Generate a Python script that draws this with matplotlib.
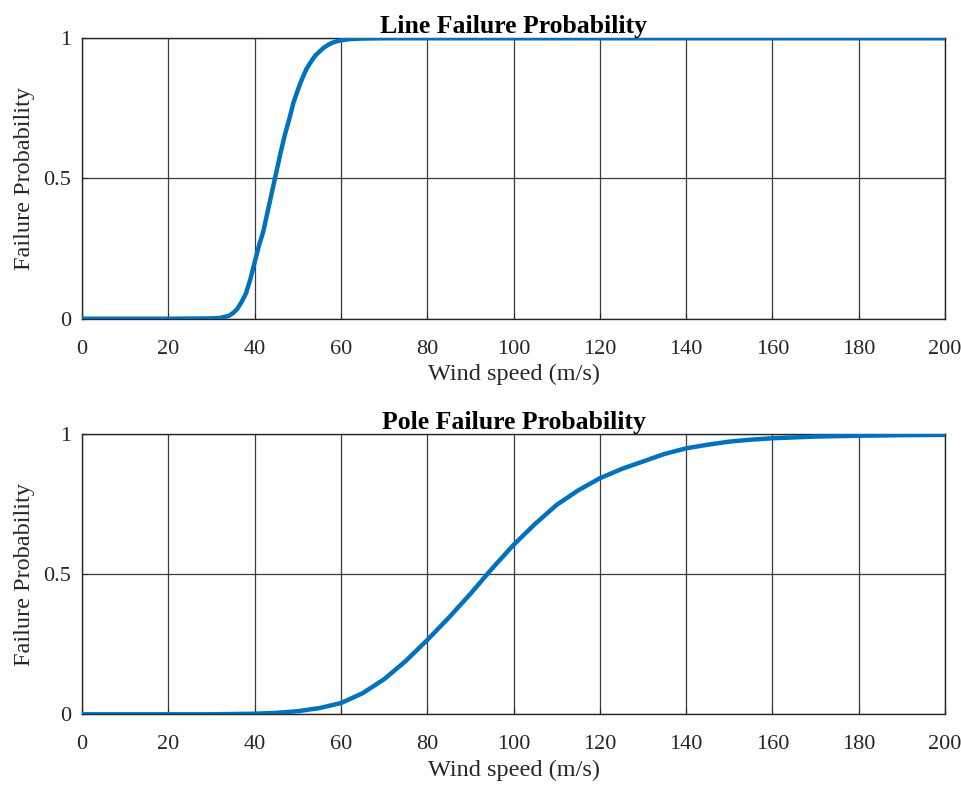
import matplotlib
matplotlib.use("Agg")
import matplotlib.pyplot as plt

# Data
line_speed = [0, 20, 30, 32, 34, 35, 36, 37, 38, 39, 40, 41, 42, 43, 44, 45, 46, 47, 48, 49,
              50, 51, 52, 53, 54, 55, 56, 57, 58, 59, 60, 62, 65, 70, 200]
line_prob = [0, 0, 0.001, 0.003, 0.01, 0.02, 0.035, 0.06, 0.09, 0.14, 0.2, 0.26, 0.31, 0.38,
             0.45, 0.52, 0.59, 0.655, 0.71, 0.77, 0.815, 0.855, 0.89, 0.915, 0.937, 0.952,
             0.966, 0.976, 0.984, 0.989, 0.993, 0.997, 0.999, 1.0, 1.0]

pole_speed = [0, 30, 40, 45, 50, 55, 60, 65, 70, 75, 80, 85, 90, 95, 100, 105, 110, 115, 120,
              125, 130, 135, 140, 145, 150, 155, 160, 170, 180, 190, 200]
pole_prob = [0, 0, 0.002, 0.005, 0.011, 0.022, 0.04, 0.075, 0.125, 0.19, 0.265, 0.345, 0.43,
             0.52, 0.605, 0.68, 0.748, 0.8, 0.843, 0.876, 0.903, 0.93, 0.95, 0.963, 0.974,
             0.981, 0.986, 0.992, 0.995, 0.997, 0.998]

x_ticks = [0, 20, 40, 60, 80, 100, 120, 140, 160, 180, 200]
y_ticks = [0, 0.5, 1]
y_ticklabels = ["0", "0.5", "1"]
titles = ["Line Failure Probability", "Pole Failure Probability"]

plt.rcParams['font.family'] = ['Liberation Serif', 'DejaVu Serif']

fig = plt.figure(figsize=(9.61, 7.91), dpi=100)
ax1 = fig.add_axes([0.0853, 0.5971, 0.8981, 0.3545])
ax2 = fig.add_axes([0.0853, 0.0970, 0.8981, 0.3539])

for ax, xs, ys, title in [(ax1, line_speed, line_prob, titles[0]),
                          (ax2, pole_speed, pole_prob, titles[1])]:
    ax.plot(xs, ys, color='#0072BD', linewidth=3.2, solid_capstyle='butt', zorder=3)
    ax.set_xlim(0, 200)
    ax.set_ylim(0, 1)
    ax.set_xticks(x_ticks)
    ax.set_yticks(y_ticks)
    ax.set_yticklabels(y_ticklabels)
    ax.grid(True, color='#262626', linewidth=0.9, alpha=0.9)
    ax.set_axisbelow(True)
    for s in ax.spines.values():
        s.set_color('#262626')
        s.set_linewidth(1.0)
    ax.tick_params(direction='in', length=4, width=0.8, colors='#262626',
                   labelcolor='#262626', labelsize=16)
    ax.tick_params(axis='x', pad=15)
    ax.tick_params(axis='y', pad=8)
    ax.set_title(title, fontweight='bold', fontsize=18.5, pad=3)
    ax.set_xlabel('Wind speed (m/s)', fontsize=17.5, color='#262626', labelpad=4)
    ax.set_ylabel('Failure Probability', fontsize=17.5, color='#262626', labelpad=6)

fig.savefig('out.png', dpi=100)
